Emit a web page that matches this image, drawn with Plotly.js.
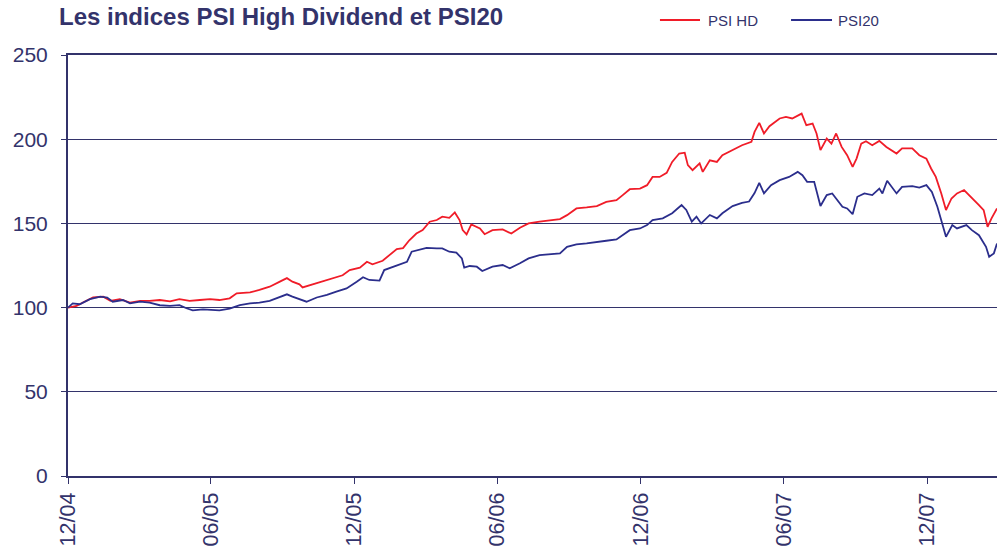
<!DOCTYPE html>
<html>
<head>
<meta charset="utf-8">
<script src="https://cdn.plot.ly/plotly-3.0.1.min.js"></script>
<style>html,body{margin:0;padding:0;background:#fff}#chart{width:998px;height:546px}</style>
</head>
<body>
<div id="chart"></div>
<script>
const chartTitle = "Les indices PSI High Dividend et PSI20";
const seriesNames = ["PSI HD", "PSI20"];
const seriesColors = ["#f01c28", "#2b2e8c"];

const hdDates = ["2004-12-01","2004-12-12","2004-12-20","2005-01-02","2005-01-15","2005-01-24","2005-02-05","2005-02-18","2005-03-03","2005-03-15","2005-03-28","2005-04-10","2005-04-22","2005-05-05","2005-05-18","2005-05-31","2005-06-12","2005-06-25","2005-07-04","2005-07-21","2005-08-02","2005-08-15","2005-08-28","2005-09-06","2005-09-13","2005-09-22","2005-09-26","2005-10-09","2005-10-22","2005-11-03","2005-11-16","2005-11-25","2005-12-08","2005-12-17","2005-12-24","2006-01-06","2006-01-15","2006-01-24","2006-02-01","2006-02-09","2006-02-18","2006-02-26","2006-03-07","2006-03-16","2006-03-23","2006-04-01","2006-04-08","2006-04-14","2006-04-18","2006-04-23","2006-04-29","2006-05-10","2006-05-16","2006-05-26","2006-06-08","2006-06-19","2006-06-30","2006-07-11","2006-07-25","2006-08-07","2006-08-20","2006-08-29","2006-09-10","2006-09-23","2006-10-06","2006-10-18","2006-10-31","2006-11-08","2006-11-17","2006-11-30","2006-12-09","2006-12-16","2006-12-25","2007-01-03","2007-01-10","2007-01-19","2007-01-26","2007-01-30","2007-02-05","2007-02-14","2007-02-18","2007-02-27","2007-03-08","2007-03-15","2007-03-28","2007-04-09","2007-04-21","2007-04-25","2007-05-01","2007-05-07","2007-05-14","2007-05-27","2007-06-04","2007-06-12","2007-06-24","2007-06-30","2007-07-08","2007-07-13","2007-07-18","2007-07-26","2007-08-01","2007-08-07","2007-08-14","2007-08-21","2007-08-28","2007-09-02","2007-09-08","2007-09-14","2007-09-22","2007-10-01","2007-10-10","2007-10-23","2007-10-30","2007-11-12","2007-11-21","2007-11-30","2007-12-06","2007-12-12","2007-12-19","2007-12-25","2008-01-01","2008-01-08","2008-01-17","2008-01-26","2008-02-05","2008-02-11","2008-02-16","2008-02-21","2008-02-28"];
const hdValues = [100,101,103,106,106.5,104,105,103,104,104,104.5,103.7,105,104,104.5,105,104.5,105.5,108.5,109,110.5,112.4,115.4,117.5,115.4,113.8,112,113.8,115.8,117.7,119.2,122.3,123.7,127.2,125.7,127.8,131.2,134.8,135.3,140,144,146,151,152,154,153.3,156.5,152,146,143.5,149.4,147,143.6,146,146.4,144,147.4,150,151,152,152.6,154.9,158.9,159.5,160.3,162.8,163.8,166.8,170.3,170.7,172.7,177.6,177.6,180,186.5,191.5,192,184.6,181.6,185.6,180.6,187.5,186.5,190.5,193.5,196.4,198.4,204.3,209.7,203.4,207.7,212.3,213.2,212.3,215.2,208.3,209.3,203.4,193.5,200.4,197.4,203.4,195.4,190.5,183.6,188.5,197.4,198.8,196.4,199,195.4,191.5,194.5,194.5,190.5,188.5,182.6,177.6,167.8,157.9,164.8,167.8,169.8,165.8,160.9,157.9,148,153,158.9];

const psiDates = ["2004-12-01","2004-12-07","2004-12-16","2004-12-29","2005-01-11","2005-01-20","2005-01-27","2005-02-09","2005-02-18","2005-03-03","2005-03-15","2005-03-28","2005-04-10","2005-04-22","2005-05-01","2005-05-09","2005-05-22","2005-06-04","2005-06-12","2005-06-25","2005-07-08","2005-07-21","2005-08-02","2005-08-15","2005-08-28","2005-09-06","2005-09-13","2005-09-22","2005-10-01","2005-10-14","2005-10-27","2005-11-08","2005-11-21","2005-12-04","2005-12-12","2005-12-20","2006-01-02","2006-01-08","2006-01-19","2006-01-28","2006-02-06","2006-02-12","2006-02-22","2006-03-03","2006-03-16","2006-03-23","2006-04-01","2006-04-10","2006-04-17","2006-04-20","2006-04-27","2006-05-06","2006-05-13","2006-05-26","2006-06-08","2006-06-17","2006-06-30","2006-07-11","2006-07-25","2006-08-07","2006-08-20","2006-08-29","2006-09-10","2006-09-23","2006-10-06","2006-10-18","2006-10-31","2006-11-08","2006-11-17","2006-11-30","2006-12-09","2006-12-16","2006-12-29","2007-01-10","2007-01-22","2007-01-28","2007-02-04","2007-02-10","2007-02-16","2007-02-27","2007-03-08","2007-03-15","2007-03-28","2007-04-09","2007-04-18","2007-04-25","2007-05-01","2007-05-07","2007-05-16","2007-05-27","2007-06-08","2007-06-19","2007-06-25","2007-07-01","2007-07-10","2007-07-18","2007-07-26","2007-08-02","2007-08-08","2007-08-15","2007-08-21","2007-08-28","2007-09-03","2007-09-12","2007-09-22","2007-10-01","2007-10-05","2007-10-11","2007-10-23","2007-10-30","2007-11-12","2007-11-21","2007-11-30","2007-12-07","2007-12-14","2007-12-20","2007-12-25","2008-01-02","2008-01-08","2008-01-20","2008-01-27","2008-02-05","2008-02-14","2008-02-18","2008-02-24","2008-02-28"];
const psiValues = [100,102.5,102,105,106.5,106,103.5,104.5,102.5,103.5,103,101.4,101,101.5,99.6,98.4,99,98.8,98.4,99.4,101.5,102.5,103,104,106.5,107.9,106.5,105,103.5,106,107.5,109.5,111.4,115.4,118,116.4,116,122.3,124.3,125.7,127.2,133.2,134.2,135.5,135.2,135.2,133.2,132.6,129.2,123.7,124.7,124.3,121.7,124.3,125.3,123.3,126.3,129.2,131.2,131.6,132.2,136.1,137.5,138.1,139.1,139.7,140.5,143,146,147,149,152,153,156,160.9,158,151,154,150,155,153,156,160.3,162.2,163,168,174,167.8,172.7,175.7,177.6,180.6,178.6,174.7,174.7,160.3,166.8,167.8,163.8,159.9,158.9,155.5,165.8,167.8,166.8,170.7,167.8,175.3,167.8,171.7,172.1,171.3,172.7,168.7,159.9,150,142,149,147,149,146,143,136.1,130.2,132.2,138.1];

const tickDates = ["2004-12-01","2005-06-01","2005-12-01","2006-06-01","2006-12-01","2007-06-01","2007-12-01"];
const tickLabels = ["12/04","06/05","12/05","06/06","12/06","06/07","12/07"];
const yTicks = [0,50,100,150,200,250];

const navy = "#33336b";
const font = "Liberation Sans, Arial, sans-serif";

const traces = [
  {x: hdDates, y: hdValues, name: seriesNames[0], type: "scatter", mode: "lines",
   line: {color: seriesColors[0], width: 1.8}, showlegend: false},
  {x: psiDates, y: psiValues, name: seriesNames[1], type: "scatter", mode: "lines",
   line: {color: seriesColors[1], width: 1.8}, showlegend: false}
];

// manual legend (paper coordinates) to match the reference's 40px legend lines
const legY = 1.0831;
const legLines = [[0.6372, 0.6803], [0.7783, 0.8224]];
const legText = [0.6868, 0.8267];
const shapes = legLines.map((p, i) => ({type: "line", xref: "paper", yref: "paper",
  x0: p[0], x1: p[1], y0: legY, y1: legY, line: {color: seriesColors[i], width: 1.8}}));
const annotations = seriesNames.map((n, i) => ({xref: "paper", yref: "paper", x: legText[i], y: legY,
  xanchor: "left", yanchor: "middle", text: n, showarrow: false,
  font: {family: font, size: 15, color: navy}}));

const layout = {
  width: 998, height: 546,
  margin: {l: 68, r: 1, t: 55, b: 70},
  paper_bgcolor: "#fff", plot_bgcolor: "#fff",
  font: {family: font, color: navy, size: 16},
  title: {text: "<b>" + chartTitle + "</b>", x: 59/998, xanchor: "left", xref: "container",
          y: 1 - 17/546, yref: "container", yanchor: "middle",
          font: {family: font, size: 24, color: navy}},
  showlegend: false,
  shapes: shapes,
  annotations: annotations,
  xaxis: {type: "date", range: ["2004-12-01", "2008-02-28"],
          tickvals: tickDates, ticktext: tickLabels, tickangle: -90,
          showgrid: false, zeroline: false,
          showline: true, linecolor: navy, linewidth: 2, mirror: true,
          ticks: "outside", ticklen: 6, tickcolor: navy, tickwidth: 1,
          tickfont: {family: font, size: 21.5, color: navy}},
  yaxis: {range: [0, 250], tickvals: yTicks, showgrid: true, gridcolor: navy, gridwidth: 1,
          zeroline: false, showline: true, linecolor: navy, linewidth: 2,
          ticks: "outside", ticklen: 5, tickcolor: navy, tickwidth: 1, ticklabelstandoff: 9,
          tickfont: {family: font, size: 21, color: navy}}
};

Plotly.newPlot("chart", traces, layout, {displayModeBar: false, staticPlot: true});
</script>
</body>
</html>
